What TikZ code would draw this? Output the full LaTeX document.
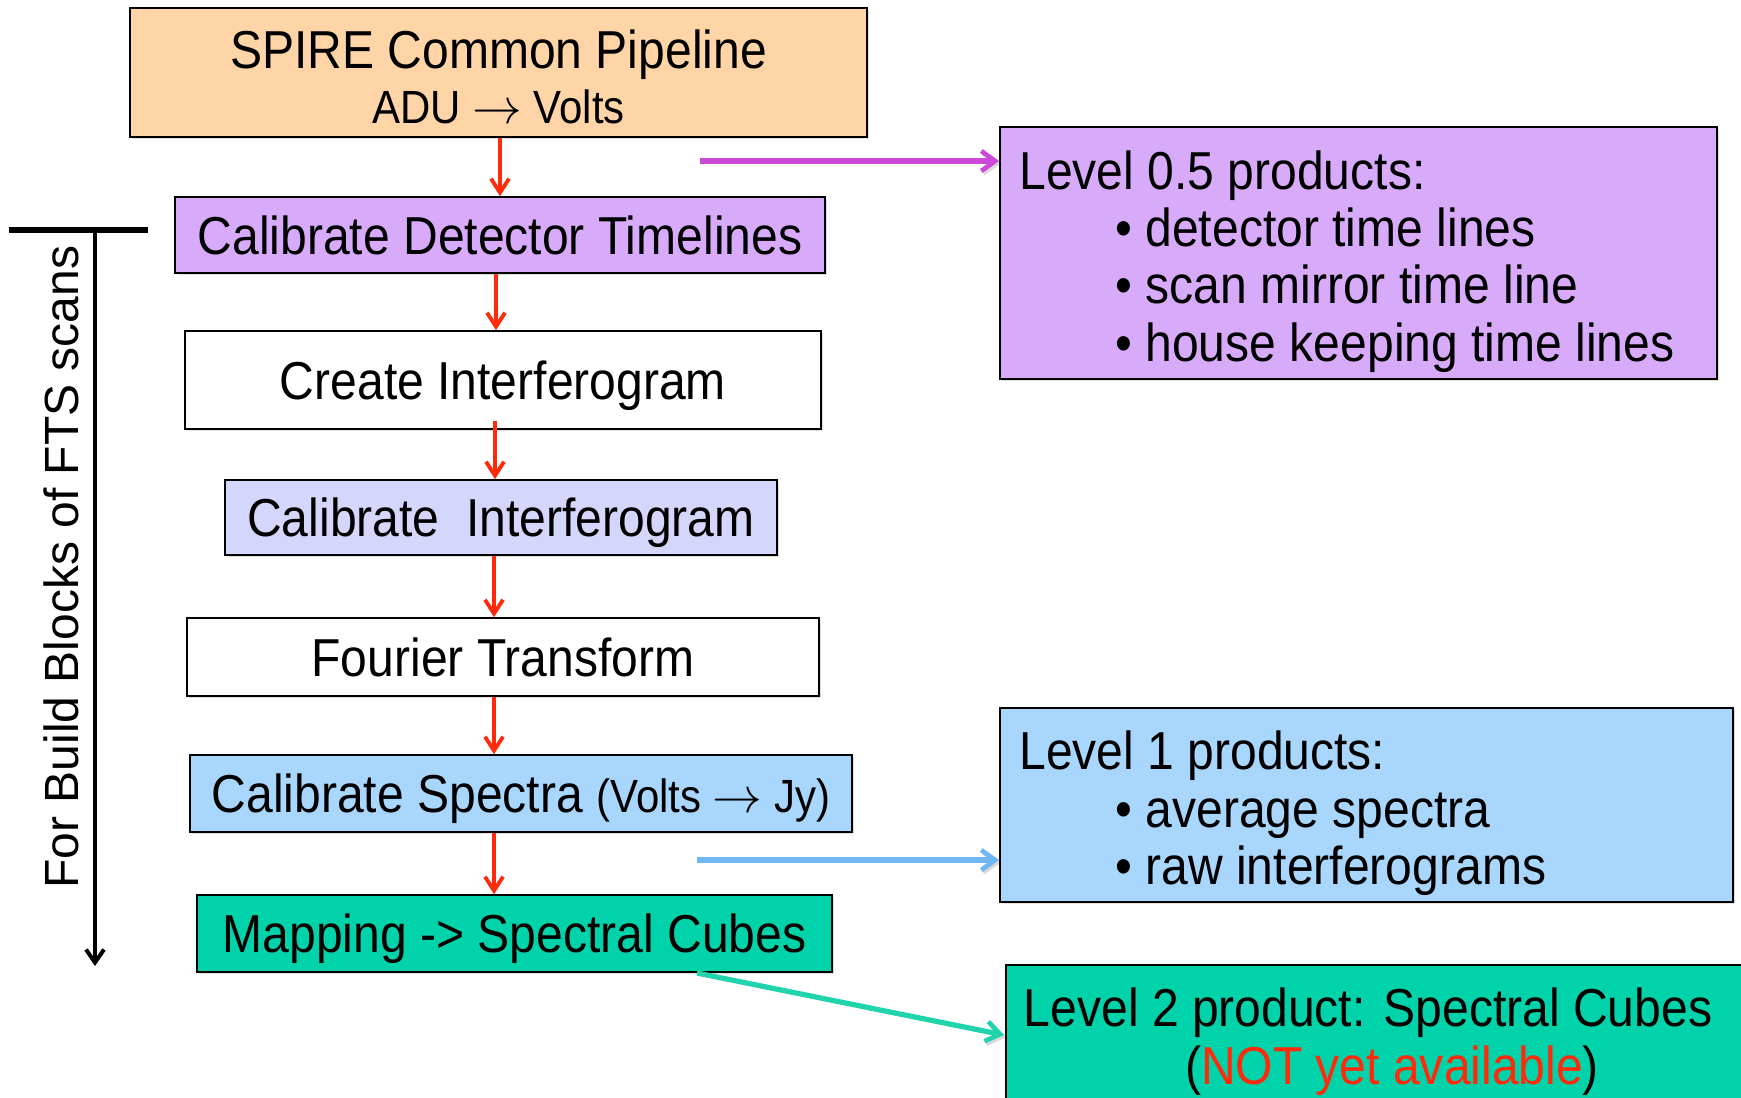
\documentclass[tikz,border=0pt]{standalone}
\usepackage{fontspec}
\setmainfont{Liberation Sans}
\newfontfamily\narrowfont{Liberation Sans}[FakeStretch=0.9]
\usetikzlibrary{arrows.meta,shadows,calc}
\definecolor{peach}{HTML}{FFD4A6}
\definecolor{lilac}{HTML}{D8ABFA}
\definecolor{lavender}{HTML}{D5D6FB}
\definecolor{skyb}{HTML}{A9D6FC}
\definecolor{tealbox}{HTML}{00D2AA}
\definecolor{redarr}{HTML}{FF2A0A}
\definecolor{magarr}{HTML}{CC48D8}
\definecolor{bluearr}{HTML}{70B8F4}
\definecolor{tealarr}{HTML}{20D4AC}
\begin{document}
\begin{tikzpicture}[x=0.5pt,y=-0.5pt,
  box/.style={draw=black, line width=0.8pt, inner sep=0pt, text depth=0pt,
    font=\narrowfont\fontsize{26.7}{30}\selectfont,
    drop shadow={opacity=0.25,shadow xshift=0.8pt,shadow yshift=-0.8pt}},
  txt/.style={inner sep=0pt, font=\narrowfont\fontsize{26.7}{30}\selectfont},
  redarrow/.style={draw=redarr, line width=1.9pt, -{Straight Barb[length=7pt,width=9pt,line width=1.9pt]}},
  sidearrow/.style={line width=2.6pt, -{Straight Barb[length=7pt,width=10pt,line width=2.3pt]},
    preaction={draw=black, draw opacity=0.15, transform canvas={xshift=1pt,yshift=-1.2pt}}},
]
\fill[white] (0,0) rectangle (1741,1098);
\clip (0,0) rectangle (1741,1098);

% main flow boxes
\node[box, fill=peach, minimum width=368.5pt, minimum height=64.5pt] (spire) at (498.5,72.5) {};
\node[txt, align=center] (spiret) at (498.5,76.5)
  {SPIRE Common Pipeline\\[-2.5pt]{\fontsize{23.3}{26}\selectfont ADU $\rightarrow$ Volts}};

\node[box, fill=lilac, minimum width=325pt, minimum height=38pt] (cdt) at (500,235) {Calibrate Detector Timelines};
\node[box, fill=white, minimum width=318pt, minimum height=49pt] (ci) at (503,380) {Create Interferogram};
\node[box, fill=lavender, minimum width=276pt, minimum height=37.5pt] (cali) at (501,517.5) {Calibrate\ \ Interferogram};
\node[box, fill=white, minimum width=316pt, minimum height=39pt] (ft) at (503,657) {Fourier Transform};
\node[box, fill=skyb, minimum width=331pt, minimum height=38.5pt] (cs) at (521,793.5)
  {Calibrate Spectra {\fontsize{23.3}{26}\selectfont(Volts $\rightarrow$ Jy)}};
\node[box, fill=tealbox, minimum width=317.5pt, minimum height=38.5pt] (map) at (514.5,933.5) {Mapping -> Spectral Cubes};

% red arrows
\draw[redarrow] (spire.south -| 500,0) -- (cdt.north -| 500,0);
\draw[redarrow] (cdt.south -| 496,0) -- (ci.north -| 496,0);
\draw[redarrow] ($(ci.south -| 495,0)+(0,-9)$) -- (cali.north -| 495,0);
\draw[redarrow] (cali.south -| 494,0) -- (ft.north -| 494,0);
\draw[redarrow] (ft.south -| 494,0) -- (cs.north -| 494,0);
\draw[redarrow] (cs.south -| 494,0) -- (map.north -| 494,0);

% product boxes
\node[box, fill=lilac, minimum width=358.5pt, minimum height=126pt] (l05) at (1358.5,253) {};
\node[txt, anchor=base west] (l05t) at (1019,189) {Level 0.5 products:};
\node[txt, anchor=base west] (l05a) at (1115,246) {• detector time lines};
\node[txt, anchor=base west] (l05b) at (1115,303) {• scan mirror time line};
\node[txt, anchor=base west] (l05c) at (1115,361) {• house keeping time lines};

\node[box, fill=skyb, minimum width=366.5pt, minimum height=97pt] (l1) at (1366.5,805) {};
\node[txt, anchor=base west] (l1t) at (1019,769) {Level 1 products:};
\node[txt, anchor=base west] (l1a) at (1115,827) {• average spectra};
\node[txt, anchor=base west] (l1b) at (1115,884) {• raw interferograms};

\node[box, fill=tealbox, minimum width=369.5pt, minimum height=68.5pt] (l2) at (1375.5,1033.5) {};
\node[txt, anchor=base] (l2t) at (1368,1026) {Level 2 product: Spectral Cubes};
\node[txt, anchor=base] (l2u) at (1392,1084) {(\textcolor{redarr}{NOT yet available})};

% side arrows
\coordinate (magstart) at (700,161);
\draw[sidearrow, draw=magarr] (magstart) -- (magstart -| l05.west);
\coordinate (bluestart) at (697,860);
\draw[sidearrow, draw=bluearr] (bluestart) -- (bluestart -| l1.west);
\coordinate (tealstart) at (697,973);
\coordinate (tealend) at (1004,1035);
\draw[sidearrow, draw=tealarr] (tealstart) -- (tealend);

% left bracket arrow
\coordinate (barl) at (9,230);
\coordinate (barr) at (148,230);
\coordinate (bartop) at (95,230);
\coordinate (barend) at (95,966);
\draw[line width=2.6pt] (barl) -- (barr);
\draw[line width=2pt, -{Straight Barb[length=6.5pt,width=9pt,line width=2pt]}] (bartop) -- (barend);
\node[rotate=90, inner sep=0pt, font=\fontsize{24}{24}\selectfont] (ftslabel) at (61,567) {For Build Blocks of FTS scans};
\end{tikzpicture}
\end{document}
